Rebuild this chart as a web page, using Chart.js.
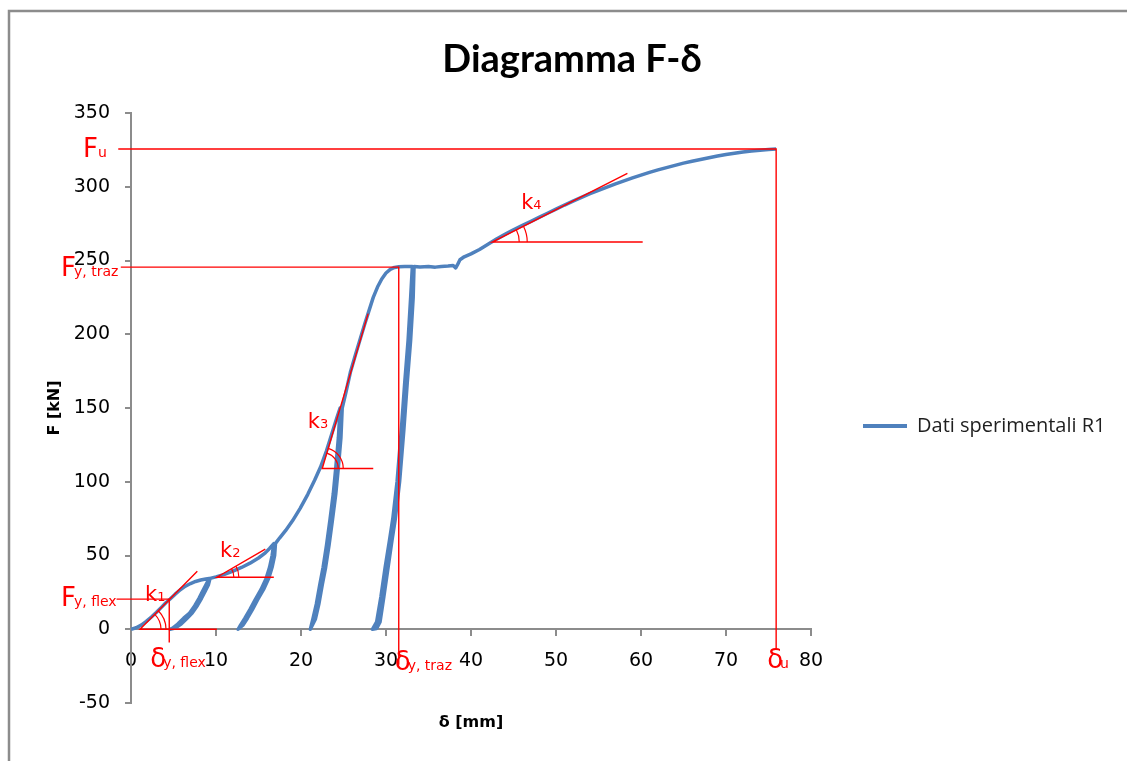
<!DOCTYPE html>
<html lang="it">
<head>
<meta charset="utf-8">
<title>Diagramma F-δ</title>
<script src="https://cdn.jsdelivr.net/npm/chart.js@4/dist/chart.umd.min.js"></script>
<style>
  html, body { margin: 0; padding: 0; background: #fff; }
  #wrap { width: 1127px; height: 761px; position: relative; }
</style>
</head>
<body>
<div id="wrap"><canvas id="grafico"></canvas></div>
<script>
const carico1   = [[0,0],[0.6,1],[1.2,2.8],[1.8,5.3],[2.4,8.3],[3,11.5],[3.6,15],[4.1,18],[4.6,20.5],[5.2,23.8],[5.8,26.8],[6.4,29.2],[7,31],[7.6,32.4],[8.2,33.4],[8.8,34.1],[9.2,34.4]];
const scarico1  = [[8.8,30],[8.4,25.5],[8,21],[7.5,16],[6.9,11],[6.2,7.5],[5.5,3.5],[4.9,0.8],[4.6,0]];
const ricarico1 = [[5.2,0.8],[5.9,3.5],[6.6,7.5],[7.2,11],[7.8,16],[8.3,21],[8.7,25.5],[9.1,30],[9.3,34.5]];
const carico2   = [[10,35.5],[11,37.2],[12,39.4],[13,41.9],[14,44.8],[15,48.3],[15.8,51.8],[16.3,54.8],[16.8,58]];
const scarico2  = [[16.6,50],[16.3,42],[15.9,34.5],[15.3,27],[14.6,20],[14,13.5],[13.4,7.5],[12.9,3],[12.6,0]];
const ricarico2 = [[13.2,3],[13.7,7.5],[14.3,13.5],[14.9,20],[15.6,27],[16.2,34.5],[16.6,42],[16.9,50],[17,58.2]];
const carico3   = [[17.5,62],[18.2,67],[19,73.5],[19.9,82],[20.8,91.5],[21.6,101],[22.3,110],[23,121],[23.6,132],[24.2,143],[24.6,150]];
const scarico3  = [[24.4,130],[24.1,110],[23.8,92],[23.4,74],[23,57],[22.6,42],[22.2,30],[21.8,17],[21.4,7],[21.1,0]];
const ricarico3 = [[21.7,7],[22.1,17],[22.5,30],[22.9,42],[23.3,57],[23.7,74],[24.1,92],[24.4,110],[24.7,130],[24.85,150]];
const carico4   = [[25.3,161],[25.8,174],[26.4,186],[27,197.5],[27.5,207],[28,216],[28.5,225],[29,232],[29.5,237.5],[30,241.5],[30.5,244],[31,245.3],[31.5,245.8],[32.2,246],[33.1,246]];
const scarico4  = [[32.9,225],[32.6,196],[32.2,167],[31.8,135],[31.3,100],[30.8,75],[30.4,60],[29.9,42],[29.4,22],[28.9,5],[28.4,0]];
const ricarico4 = [[28.9,0.5],[29.3,5],[29.75,22],[30.25,42],[30.7,60],[31.1,75],[31.6,100],[32.1,135],[32.5,167],[32.9,196],[33.2,225],[33.3,246]];
const carico5   = [[34,245.6],[35,245.9],[35.8,245.5],[36.5,246],[37.3,246.2],[37.9,246.6],[38.2,245],[38.4,247],[38.7,250.5],[39.2,252.5],[40,254.5],[41,257.5],[42,261],[43,264.5],[44,267.7],[45,270.8],[46,273.6],[47,276.4],[48,279.2],[49,282],[50,284.8],[51,287.6],[52,290.2],[53,292.8],[54,295.3],[55,297.6],[56,299.8],[57,302],[58,304],[59,306],[60,307.9],[61,309.7],[62,311.4],[63,313],[64,314.5],[65,316],[66,317.3],[67,318.5],[68,319.7],[69,320.8],[70,321.8],[71,322.7],[72,323.5],[73,324.2],[74,324.8],[75,325.3],[75.9,325.6]];

// linee di costruzione (rosse)
const lineaFu     = [[-1.5,325.6],[75.9,325.6],[75.9,-14]];
const lineaFyTraz = [[-1.2,245.5],[31.5,245.5],[31.5,-24]];
const lineaFyFlex = [[-1.7,20.4],[4.5,20.4],[4.5,-9]];
// tangenti: punto sulla tangente, vertice, fine dell'orizzontale
const tangK1 = [[7.8,39.3],[1.06,0],[10.1,0]];
const tangK2 = [[15.8,54.3],[10.1,35.3],[16.8,35.3]];
const tangK3 = [[27.9,214],[22.5,109],[28.5,109]];
const tangK4 = [[58.4,309],[42.5,262.5],[60.2,262.5]];
// posizione delle etichette k (in unità dei dati)
const posK = [[1.65,19],[10.47,48.8],[20.8,136.4],[45.9,285]];

const tickX = [0, 10, 20, 30, 40, 50, 60, 70, 80];
const tickY = [-50, 0, 50, 100, 150, 200, 250, 300, 350];

const BLU = '#4F81BD';
const ROSSO = '#FF0000';
const GRIGIO = '#8c8c8c';

const curva = [carico1, scarico1, ricarico1, carico2, scarico2, ricarico2, carico3, scarico3, ricarico3,
  carico4, scarico4, ricarico4, carico5].flat().map(([x, y]) => ({ x, y }));

const tangenti = [tangK1, tangK2, tangK3, tangK4];
const raggiArchi = [[21, 26], [17, 22], [16, 21], [27, 35]];

function rossa(punti) {
  return {
    label: '',
    data: punti.map(([x, y]) => ({ x, y })),
    borderColor: ROSSO,
    borderWidth: 1.4,
    pointRadius: 0,
    tension: 0,
    clip: false,
    order: 0
  };
}

// testo con pedice (stessa linea di base)
function scritta(c, x0, base, grande, piccolo, sizeG, sizeP, stacco) {
  c.font = sizeG + 'px "DejaVu Sans"';
  c.fillText(grande, x0, base);
  const w = c.measureText(grande).width;
  c.font = sizeP + 'px "DejaVu Sans"';
  c.fillText(piccolo, x0 + w - stacco, base);
}

const extra = {
  id: 'extra',
  beforeDraw(chart) {
    const c = chart.ctx;
    c.save();
    c.fillStyle = '#fff';
    c.fillRect(0, 0, chart.width, chart.height);
    c.strokeStyle = GRIGIO;
    c.lineWidth = 2.5;
    c.beginPath();
    c.moveTo(9, chart.height);
    c.lineTo(9, 11);
    c.lineTo(chart.width, 11);
    c.stroke();
    c.restore();
  },
  afterDatasetsDraw(chart) {
    const { ctx: c, scales: { x, y } } = chart;
    c.save();
    c.strokeStyle = ROSSO;
    c.fillStyle = ROSSO;
    c.lineWidth = 1.2;
    // archi degli angoli
    tangenti.forEach((t, i) => {
      const cx = x.getPixelForValue(t[1][0]), cy = y.getPixelForValue(t[1][1]);
      const px = x.getPixelForValue(t[0][0]), py = y.getPixelForValue(t[0][1]);
      const ang = Math.atan2(py - cy, px - cx);
      raggiArchi[i].forEach(r => {
        c.beginPath();
        c.arc(cx, cy, r, ang, 0);
        c.stroke();
      });
    });
    c.textAlign = 'left';
    c.textBaseline = 'alphabetic';
    // k1..k4
    posK.forEach((p, i) => {
      scritta(c, x.getPixelForValue(p[0]), y.getPixelForValue(p[1]), 'k', String(i + 1), 21, 13, 0);
    });
    // forze
    const x0 = x.getPixelForValue(0);
    scritta(c, x0 - 48, y.getPixelForValue(lineaFu[0][1]) + 8, 'F', 'u', 26, 14, 0);
    scritta(c, x0 - 70, y.getPixelForValue(lineaFyTraz[0][1]) + 9, 'F', 'y, traz', 26, 14, 2);
    scritta(c, x0 - 70, y.getPixelForValue(lineaFyFlex[0][1]) + 7, 'F', 'y, flex', 26, 14, 2);
    // spostamenti
    const y0 = y.getPixelForValue(0);
    scritta(c, x.getPixelForValue(lineaFyFlex[1][0]) - 19, y0 + 38, 'δ', 'y, flex', 26, 14, 3);
    scritta(c, x.getPixelForValue(lineaFyTraz[1][0]) - 4, y0 + 41, 'δ', 'y, traz', 26, 14, 3);
    scritta(c, x.getPixelForValue(lineaFu[1][0]) - 9, y0 + 39, 'δ', 'u', 26, 14, 3);
    c.restore();
  }
};

new Chart(document.getElementById('grafico'), {
  type: 'line',
  data: {
    datasets: [
      {
        label: 'Dati sperimentali R1',
        data: curva,
        borderColor: BLU,
        backgroundColor: BLU,
        borderWidth: 3.5,
        borderJoinStyle: 'round',
        pointRadius: 0,
        tension: 0,
        order: 1
      },
      rossa(lineaFu),
      rossa(lineaFyTraz),
      rossa(lineaFyFlex),
      rossa(tangK1),
      rossa(tangK2),
      rossa(tangK3),
      rossa(tangK4)
    ]
  },
  options: {
    responsive: true,
    maintainAspectRatio: false,
    animation: false,
    events: [],
    layout: { padding: { top: 37, right: 15, bottom: 58, left: 32 } },
    plugins: {
      title: {
        display: true,
        text: 'Diagramma F-δ',
        color: '#000',
        font: { family: 'Lato', size: 38, weight: 'bold', lineHeight: 1.2 },
        padding: { top: 0, bottom: 30.4 }
      },
      legend: {
        position: 'right',
        fullSize: false,
        maxWidth: 301,
        title: { display: true, text: ' ', font: { size: 12, lineHeight: 1 }, padding: 12 },
        labels: {
          boxWidth: 44,
          boxHeight: 4,
          padding: 52,
          color: '#1f1f1f',
          font: { family: 'Open Sans', size: 20 },
          generateLabels: chart => [{
            text: chart.data.datasets[0].label,
            fillStyle: BLU,
            strokeStyle: BLU,
            fontColor: '#1f1f1f',
            lineWidth: 0,
            hidden: false,
            datasetIndex: 0
          }]
        }
      },
      tooltip: { enabled: false }
    },
    scales: {
      x: {
        type: 'linear',
        position: { y: 0 },
        min: 0,
        max: 80,
        afterBuildTicks: s => { s.ticks = tickX.map(v => ({ value: v })); },
        border: { display: true, color: GRIGIO, width: 2 },
        grid: { drawOnChartArea: false, color: GRIGIO, lineWidth: 2, tickLength: 6 },
        ticks: { padding: 14, color: '#000', font: { family: 'DejaVu Sans', size: 19 } },
        title: {
          display: true,
          text: 'δ [mm]',
          color: '#000',
          font: { family: 'DejaVu Sans', size: 16, weight: 'bold', lineHeight: 1.2 },
          padding: { top: 27.6, bottom: 0 }
        }
      },
      y: {
        type: 'linear',
        position: 'left',
        min: -50,
        max: 350,
        afterBuildTicks: s => { s.ticks = tickY.map(v => ({ value: v })); },
        afterFit: s => { s.width = 99; },
        border: { display: true, color: GRIGIO, width: 2 },
        grid: { drawOnChartArea: false, color: GRIGIO, lineWidth: 2, tickLength: 6 },
        ticks: { padding: 15, color: '#000', font: { family: 'DejaVu Sans', size: 19 } },
        title: {
          display: true,
          text: 'F [kN]',
          color: '#000',
          font: { family: 'DejaVu Sans', size: 16, weight: 'bold', lineHeight: 1.2 },
          padding: { top: 13.4, bottom: 0 }
        }
      }
    }
  },
  plugins: [extra]
});
</script>
</body>
</html>
